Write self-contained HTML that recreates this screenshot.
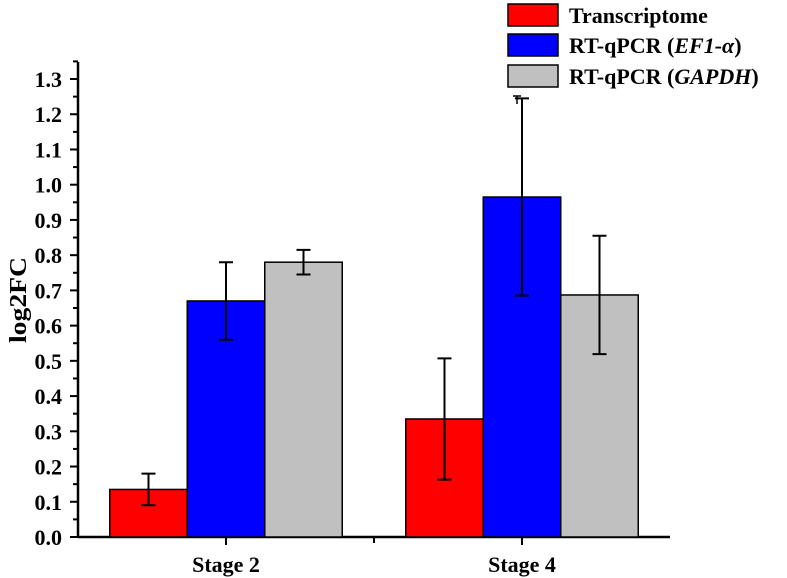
<!DOCTYPE html>
<html><head><meta charset="utf-8"><style>
body{margin:0;background:#fff}
svg{display:block;font-family:"Liberation Serif",serif;font-weight:bold}
</style></head><body>
<svg id="chart" width="787" height="578">
<g id="axes"></g><g id="bars"></g>
<text transform="translate(26,300) rotate(-90)" text-anchor="middle" font-size="24" textLength="86" lengthAdjust="spacingAndGlyphs">log2FC</text>
<g>
<rect x="508" y="4" width="50" height="22" fill="#ff0000" stroke="#000" stroke-width="1.5"/>
<text x="569" y="23" font-size="22">Transcriptome</text>
<rect x="508" y="34" width="50" height="22" fill="#0000ff" stroke="#000" stroke-width="1.5"/>
<text x="569" y="53" font-size="22">RT-qPCR (<tspan font-style="italic">EF1-α</tspan>)</text>
<rect x="508" y="65" width="50" height="22" fill="#c0c0c0" stroke="#000" stroke-width="1.5"/>
<text x="569" y="84" font-size="22">RT-qPCR (<tspan font-style="italic">GAPDH</tspan>)</text>
<path d="M513 96H521M517 96V104" stroke="#000" stroke-width="1.5"/>
</g>
</svg>
<script>
const categories=["Stage 2","Stage 4"];
const seriesNames=["Transcriptome","EF1-α","GAPDH"];
const colors=["#ff0000","#0000ff","#c0c0c0"];
const transcriptome=[0.135,0.335];
const ef1a=[0.67,0.965];
const gapdh=[0.78,0.687];
const transcriptomeErr=[0.045,0.172];
const ef1aErr=[0.11,0.28];
const gapdhErr=[0.035,0.168];
const yTicks=["0.0","0.1","0.2","0.3","0.4","0.5","0.6","0.7","0.8","0.9","1.0","1.1","1.2","1.3"];
const NS="http://www.w3.org/2000/svg";
const X0=78,X1=670,Y0=537,PER=35.23;
const y=v=>Y0-v*PER*10;
const catW=(X1-X0)/categories.length;
const cx=i=>X0+catW*(i+0.5);
const barW=77.5;
function mk(t,a,p){const e=document.createElementNS(NS,t);for(const k in a)e.setAttribute(k,a[k]);p.appendChild(e);return e;}
const ax=document.getElementById('axes'),bg=document.getElementById('bars');
const series=[transcriptome,ef1a,gapdh],errs=[transcriptomeErr,ef1aErr,gapdhErr];
categories.forEach((c,i)=>{
 series.forEach((s,j)=>{
  const x=cx(i)+(j-1.5)*barW;
  const r=mk('rect',{x:x,y:y(s[i]),width:barW,height:Y0-y(s[i]),fill:colors[j],stroke:'#000','stroke-width':1.5},bg);
  
  
  const m=x+barW/2,t=y(s[i]+errs[j][i]),b=y(s[i]-errs[j][i]);
  const e=mk('path',{d:`M${m-7} ${t}H${m+7}M${m} ${t}V${b}M${m-7} ${b}H${m+7}`,stroke:'#000','stroke-width':2,fill:'none'},bg);
  
  
 });
 const tl=mk('text',{x:cx(i),y:572,'text-anchor':'middle','font-size':22},ax);tl.textContent=c;
 
 
 mk('line',{x1:cx(i),x2:cx(i),y1:Y0,y2:Y0+8,stroke:'#000','stroke-width':2},ax);
});
mk('line',{x1:X0+catW,x2:X0+catW,y1:Y0,y2:Y0+6,stroke:'#000','stroke-width':2},ax);
yTicks.forEach((t,i)=>{
 const v=parseFloat(t);
 mk('line',{x1:X0-8,x2:X0,y1:y(v),y2:y(v),stroke:'#000','stroke-width':2},ax);
 mk('line',{x1:X0-5,x2:X0,y1:y(v+0.05),y2:y(v+0.05),stroke:'#000','stroke-width':2},ax);
 const l=mk('text',{x:X0-16,y:y(v)+8,'text-anchor':'end','font-size':22},ax);l.textContent=t;
 
 
});
const xa=mk('line',{x1:X0,x2:X1,y1:Y0,y2:Y0,stroke:'#000','stroke-width':2.5},ax);


const ya=mk('line',{x1:X0,x2:X0,y1:62,y2:Y0,stroke:'#000','stroke-width':2.5},ax);


</script>
</body></html>
